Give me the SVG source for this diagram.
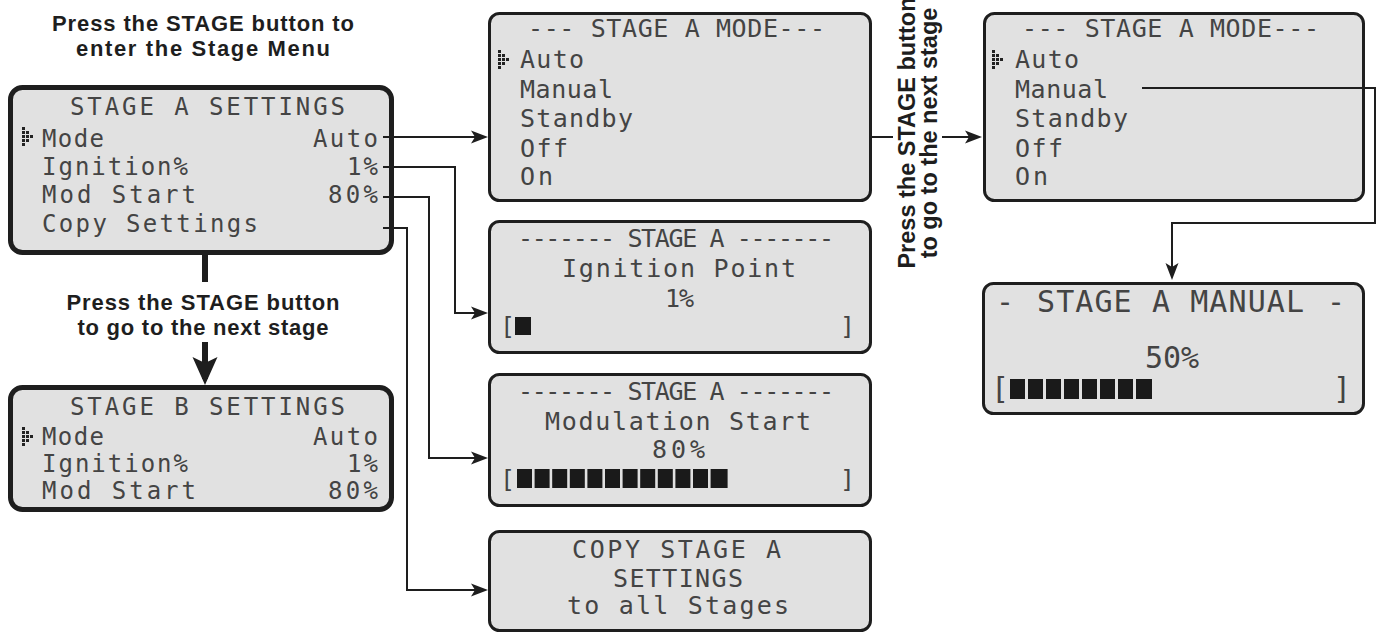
<svg xmlns="http://www.w3.org/2000/svg" width="1377" height="634" viewBox="0 0 1377 634">
<style>
  .bg{fill:#ffffff}
  .lcd{fill:#e1e1e1;stroke:#1e1e1e;stroke-width:3}
  .lcdb{fill:#e1e1e1;stroke:#1e1e1e;stroke-width:5}
  .t{font-family:"DejaVu Sans Mono","Liberation Mono",monospace;fill:#444444;white-space:pre}
  .s24{font-size:24px}
  .s25{font-size:25px}
  .s30{font-size:30px}
  .lbl{font-family:"Liberation Sans",Arial,sans-serif;font-weight:bold;font-size:23.5px;fill:#1e1e1e;text-anchor:middle}
  .lbls{font-family:"Liberation Sans",Arial,sans-serif;font-weight:bold;font-size:22px;fill:#1e1e1e;text-anchor:middle}
  .con{fill:none;stroke:#1e1e1e;stroke-width:2;stroke-linejoin:miter}
  .thick{fill:none;stroke:#1e1e1e;stroke-width:6}
  .blk{fill:#1a1a1a}
  .dot{fill:#222}
</style>
<defs>
  <marker id="arr" viewBox="-1 -8 20 16" markerWidth="20" markerHeight="16" refX="13" refY="0" orient="auto" markerUnits="userSpaceOnUse">
    <path d="M0,-6.5 L17,0 L0,6.5 L4,0 Z" fill="#1e1e1e"/>
  </marker>
  <marker id="bigarr" viewBox="-1 -14 32 28" markerWidth="32" markerHeight="28" refX="22" refY="0" orient="auto" markerUnits="userSpaceOnUse">
    <path d="M0,-12.5 L28,0 L0,12.5 L6,0 Z" fill="#1e1e1e"/>
  </marker>
  <g id="ptr">
    <rect class="dot" x="0" y="0" width="3" height="3"/>
    <rect class="dot" x="0" y="4" width="3" height="3"/>
    <rect class="dot" x="0" y="8" width="3" height="3"/>
    <rect class="dot" x="0" y="12" width="3" height="3"/>
    <rect class="dot" x="0" y="16" width="3" height="3"/>
    <rect class="dot" x="4" y="4" width="3" height="3"/>
    <rect class="dot" x="4" y="8" width="3" height="3"/>
    <rect class="dot" x="4" y="12" width="3" height="3"/>
    <rect class="dot" x="8" y="8" width="3" height="3"/>
  </g>
</defs>
<rect class="bg" x="0" y="0" width="1377" height="634"/>

<g id="label-enter">
  <text class="lbls" x="203" y="31" textLength="302">Press the STAGE button to</text>
  <text class="lbls" x="203" y="56" textLength="254">enter the Stage Menu</text>
</g>

<g id="panel-stage-a-settings">
  <rect class="lcdb" x="10.5" y="87.5" width="381" height="165" rx="12"/>
  <text class="t s24" x="70" y="115" textLength="275">STAGE A SETTINGS</text>
  <use href="#ptr" x="22" y="127"/>
  <text class="t s24" x="42" y="147" textLength="62">Mode</text>
  <text class="t s24" x="313" y="147" textLength="65">Auto</text>
  <text class="t s24" x="42" y="175" textLength="146">Ignition%</text>
  <text class="t s24" x="347" y="175" textLength="31">1%</text>
  <text class="t s24" x="42" y="203" textLength="154">Mod Start</text>
  <text class="t s24" x="328" y="203" textLength="50">80%</text>
  <text class="t s24" x="42" y="232" textLength="216">Copy Settings</text>
</g>

<g id="label-next-stage-left">
  <text class="lbls" x="203" y="310" textLength="273">Press the STAGE button</text>
  <text class="lbls" x="203" y="335" textLength="251">to go to the next stage</text>
</g>

<g id="panel-stage-b-settings">
  <rect class="lcdb" x="10.5" y="387.5" width="381" height="122" rx="12"/>
  <text class="t s24" x="70" y="415" textLength="275">STAGE B SETTINGS</text>
  <use href="#ptr" x="22" y="427"/>
  <text class="t s24" x="42" y="445" textLength="62">Mode</text>
  <text class="t s24" x="313" y="445" textLength="65">Auto</text>
  <text class="t s24" x="42" y="472" textLength="146">Ignition%</text>
  <text class="t s24" x="347" y="472" textLength="31">1%</text>
  <text class="t s24" x="42" y="499" textLength="154">Mod Start</text>
  <text class="t s24" x="328" y="499" textLength="50">80%</text>
</g>

<g id="panel-stage-a-mode">
  <rect class="lcd" x="489.5" y="13.5" width="381" height="187" rx="10"/>
  <text class="t s25" x="528" y="37" textLength="297">--- STAGE A MODE---</text>
  <use href="#ptr" x="498" y="50"/>
  <text class="t s25" x="520" y="68" textLength="64">Auto</text>
  <text class="t s25" x="520" y="98" textLength="93">Manual</text>
  <text class="t s25" x="520" y="127" textLength="113">Standby</text>
  <text class="t s25" x="520" y="157" textLength="48">Off</text>
  <text class="t s25" x="520" y="185" textLength="33">On</text>
</g>

<g id="panel-ignition-point">
  <rect class="lcd" x="489.5" y="221.5" width="381" height="131" rx="10"/>
  <text class="t s25" x="518" y="247" textLength="316">------- STAGE A -------</text>
  <text class="t s25" x="562" y="277" textLength="234">Ignition Point</text>
  <text class="t s25" x="665" y="307" textLength="29">1%</text>
  <text class="t s25" x="500" y="335">[</text>
  <rect class="blk" x="515" y="317" width="16" height="18"/>
  <text class="t s25" x="840" y="335">]</text>
</g>

<g id="panel-modulation-start">
  <rect class="lcd" x="489.5" y="374.5" width="381" height="131" rx="10"/>
  <text class="t s25" x="518" y="400" textLength="316">------- STAGE A -------</text>
  <text class="t s25" x="545" y="430" textLength="266">Modulation Start</text>
  <text class="t s25" x="652" y="458" textLength="53">80%</text>
  <text class="t s25" x="500" y="488">[</text>
  <rect class="blk" x="517" y="469" width="15" height="19"/>
  <rect class="blk" x="534.6" y="469" width="15" height="19"/>
  <rect class="blk" x="552.2" y="469" width="15" height="19"/>
  <rect class="blk" x="569.8" y="469" width="15" height="19"/>
  <rect class="blk" x="587.4" y="469" width="15" height="19"/>
  <rect class="blk" x="605" y="469" width="15" height="19"/>
  <rect class="blk" x="622.6" y="469" width="15" height="19"/>
  <rect class="blk" x="640.2" y="469" width="15" height="19"/>
  <rect class="blk" x="657.8" y="469" width="15" height="19"/>
  <rect class="blk" x="675.4" y="469" width="15" height="19"/>
  <rect class="blk" x="693" y="469" width="15" height="19"/>
  <rect class="blk" x="710.6" y="469" width="17" height="19"/>
  <text class="t s25" x="840" y="488">]</text>
</g>

<g id="panel-copy-settings">
  <rect class="lcd" x="489.5" y="531.5" width="381" height="99" rx="10"/>
  <text class="t s25" x="572" y="558" textLength="209">COPY STAGE A</text>
  <text class="t s25" x="613" y="587" textLength="130">SETTINGS</text>
  <text class="t s25" x="567" y="614" textLength="222">to all Stages</text>
</g>

<g id="label-next-stage-right">
  <text class="lbl" transform="translate(915,133) rotate(-90)" x="0" y="0">Press the STAGE button<tspan x="0" dy="22">to go to the next stage</tspan></text>
</g>

<g id="panel-stage-a-mode-2">
  <rect class="lcd" x="984.5" y="13.5" width="379" height="187" rx="10"/>
  <text class="t s25" x="1022" y="37" textLength="297">--- STAGE A MODE---</text>
  <use href="#ptr" x="992" y="50"/>
  <text class="t s25" x="1015" y="68" textLength="64">Auto</text>
  <text class="t s25" x="1015" y="98" textLength="93">Manual</text>
  <text class="t s25" x="1015" y="127" textLength="113">Standby</text>
  <text class="t s25" x="1015" y="157" textLength="48">Off</text>
  <text class="t s25" x="1015" y="185" textLength="33">On</text>
</g>

<g id="panel-stage-a-manual">
  <rect class="lcd" x="983.5" y="283.5" width="380" height="130" rx="10"/>
  <text class="t s30" x="996" y="312">-</text>
  <text class="t s30" x="1037" y="312" textLength="267">STAGE A MANUAL</text>
  <text class="t s30" x="1327" y="312">-</text>
  <text class="t s30" x="1145" y="368" textLength="54">50%</text>
  <text class="t s30" x="991" y="399">[</text>
  <rect class="blk" x="1010" y="379" width="15" height="20"/>
  <rect class="blk" x="1028" y="379" width="15" height="20"/>
  <rect class="blk" x="1046" y="379" width="15" height="20"/>
  <rect class="blk" x="1064" y="379" width="15" height="20"/>
  <rect class="blk" x="1082" y="379" width="15" height="20"/>
  <rect class="blk" x="1100" y="379" width="15" height="20"/>
  <rect class="blk" x="1118" y="379" width="15" height="20"/>
  <rect class="blk" x="1136" y="379" width="16" height="20"/>
  <text class="t s30" x="1333" y="399">]</text>
</g>

<g id="connectors">
  <path class="con" d="M383,137 H484" marker-end="url(#arr)"/>
  <path class="con" d="M383,167 H455 V313 H484" marker-end="url(#arr)"/>
  <path class="con" d="M383,197 H429 V458 H484" marker-end="url(#arr)"/>
  <path class="con" d="M383,228 H407 V590 H484" marker-end="url(#arr)"/>
  <path class="con" d="M871,137 H893"/>
  <path class="con" d="M942,137 H978" marker-end="url(#arr)"/>
  <path class="con" d="M1142,88 H1375 V223 H1172 V276" marker-end="url(#arr)"/>
  <path class="thick" d="M205,255 V282"/>
  <path class="thick" d="M205,342 V379" marker-end="url(#bigarr)"/>
</g>
</svg>
